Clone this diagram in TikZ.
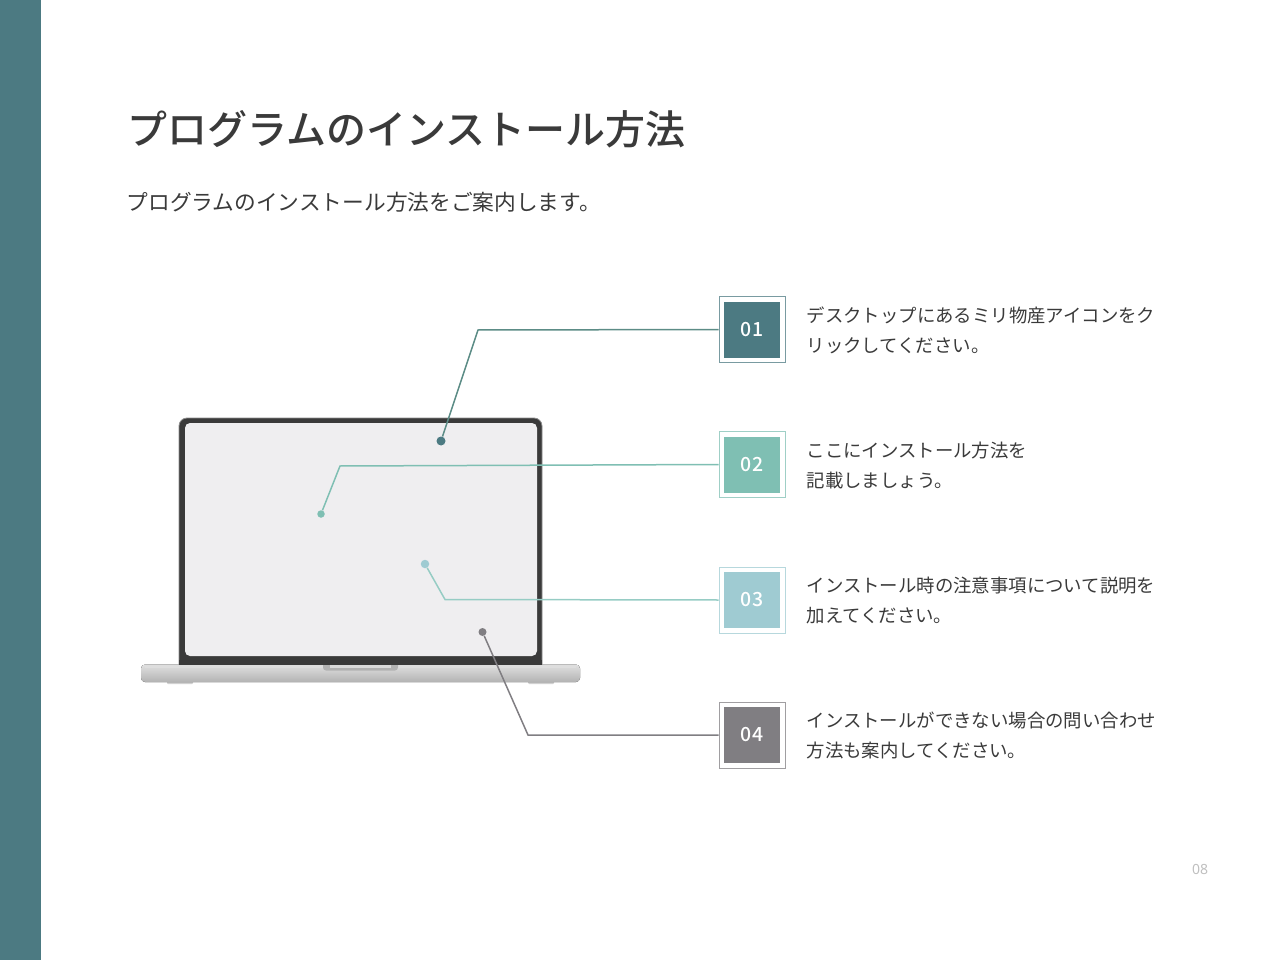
\documentclass[tikz,border=0pt]{standalone}
\usepackage{fontspec}
\setmainfont{Noto Sans CJK JP}
\newfontfamily\titlefont{Noto Sans CJK JP Medium}
\newfontfamily\pagefont{Noto Sans}
\usepackage{tikz}
\usetikzlibrary{positioning}
\definecolor{tealdark}{HTML}{4C7A82}
\definecolor{tealmid}{HTML}{7FBFB3}
\definecolor{teallight}{HTML}{9FCBD2}
\definecolor{slategrey}{HTML}{807E82}
\definecolor{inktext}{HTML}{3A3A3A}
\definecolor{linedark}{HTML}{5C8C86}
\definecolor{linelight}{HTML}{96CCC4}
\definecolor{screengrey}{HTML}{EFEEF0}
\tikzset{
    numbox/.style={draw=#1!75!white, line width=0.8pt, fill=white, minimum size=66pt, inner sep=0pt},
    numfill/.style={fill=#1, text=white, minimum size=56pt, inner sep=0pt,
        font=\titlefont\fontsize{19.5}{22}\selectfont},
    stepdot/.style={circle, inner sep=0pt, fill=#1},
    steptext/.style={align=left, inner sep=0pt, text=inktext, right=21pt of #1, yshift=-0.7pt,
        font=\fontsize{18.4}{29.6}\selectfont}
}
\begin{document}
\begin{tikzpicture}[x=1pt, y=-1pt]
    \useasboundingbox (0,0) rectangle (1280,960);
    \fill[tealdark] (0,0) rectangle (41,960);
    \node[anchor=west, inner sep=0pt, text=inktext, font=\titlefont\fontsize{40}{48}\selectfont] (title) at (127,129)
        {プログラムのインストール方法};
    \node[anchor=west, inner sep=0pt, text=inktext, font=\fontsize{21.7}{26}\selectfont] (subtitle) at (126.5,202)
        {プログラムのインストール方法をご案内します。};
    % laptop
    \fill[black!18, rounded corners=1pt] (167,680) rectangle (193,684);
    \fill[black!18, rounded corners=1pt] (528,680) rectangle (554,684);
    \draw[fill=inktext, draw=black!45, line width=0.8pt, rounded corners=8pt] (179,672) -- (179,418) -- (542,418) -- (542,672) -- cycle;
    \fill[screengrey, rounded corners=5pt] (185,423) rectangle (537,656);
    \fill[top color=black!12, bottom color=black!30, rounded corners=4pt] (141,664.5) -- (141,682) -- (580,682) -- (580,664.5) -- cycle;
    \fill[black!13] (145,664.5) rectangle (576,668);
    \fill[black!30, rounded corners=3pt] (323,660) rectangle (398,670.5);
    \fill[black!14] (330,664.5) rectangle (391,668);
    \fill[inktext] (179,660) rectangle (542,664.5);
    % number boxes
    \node[numbox=tealdark] (box1) at (752,329.5) {};
    \node[numbox=tealmid] (box2) at (752,464.5) {};
    \node[numbox=teallight] (box3) at (752,600) {};
    \node[numbox=slategrey] (box4) at (752,735) {};
    \node[numfill=tealdark] (num1) at (box1) {01};
    \node[numfill=tealmid] (num2) at (box2) {02};
    \node[numfill=teallight] (num3) at (box3) {03};
    \node[numfill=slategrey] (num4) at (box4) {04};
    \node[steptext=box1] (text1) {デスクトップにあるミリ物産アイコンをク\\リックしてください。};
    \node[steptext=box2] (text2) {ここにインストール方法を\\記載しましょう。};
    \node[steptext=box3] (text3) {インストール時の注意事項について説明を\\加えてください。};
    \node[steptext=box4] (text4) {インストールができない場合の問い合わせ\\方法も案内してください。};
    % dots and leader lines
    \node[stepdot=tealdark, minimum size=9pt] (dot1) at (441,441) {};
    \node[stepdot=tealmid, minimum size=7.5pt] (dot2) at (321,514) {};
    \node[stepdot=teallight, minimum size=8.5pt] (dot3) at (425,564) {};
    \node[stepdot=slategrey, minimum size=8pt] (dot4) at (482.5,632) {};
    \coordinate (bend1) at (478,330);
    \coordinate (bend2) at (340,466);
    \coordinate (bend3) at (445,599.5);
    \coordinate (bend4) at (528,735);
    \draw[linedark, line width=1.5pt] (dot1) -- (bend1) -- (box1.west);
    \draw[tealmid, line width=1.5pt] (dot2) -- (bend2) -- (box2.west);
    \draw[linelight, line width=1.5pt] (dot3) -- (bend3) -- (box3.west);
    \draw[slategrey, line width=1.5pt] (dot4) -- (bend4) -- (box4.west);
    \node[text=black!25, font=\pagefont\fontsize{14}{16}\selectfont, inner sep=0pt] (page) at (1200,869) {08};
\end{tikzpicture}
\end{document}
